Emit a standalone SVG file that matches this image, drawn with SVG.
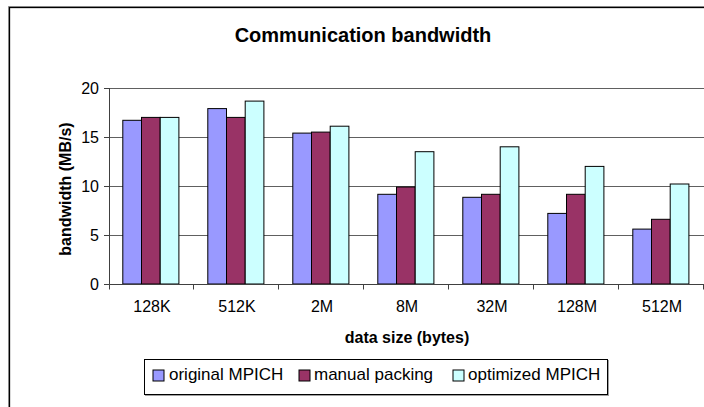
<svg xmlns="http://www.w3.org/2000/svg" width="704" height="407" viewBox="0 0 704 407">
  <style>
    text { font-family: "Liberation Sans", Arial, sans-serif; fill: #000; }
    .title { font-size: 20px; font-weight: bold; }
    .axt { font-size: 16px; font-weight: bold; }
    .tick { font-size: 16px; }
    .leg { font-size: 17px; }
    .grid { stroke: #606060; stroke-width: 1; }
    .axis { stroke: #404040; stroke-width: 1; fill: none; }
    .b1 { fill: #9999FF; stroke: #000; stroke-width: 1; }
    .b2 { fill: #993366; stroke: #000; stroke-width: 1; }
    .b3 { fill: #CCFFFF; stroke: #000; stroke-width: 1; }
  </style>

  <!-- chart frame -->
  <rect x="0" y="0" width="704" height="407" fill="#fff"/>
  <rect x="8.5" y="6.5" width="720" height="420" fill="none" stroke="#a0a0a0" stroke-width="1"/>
  <rect x="9.5" y="7.5" width="720" height="420" fill="none" stroke="#000" stroke-width="1.3"/>

  <text class="title" x="363" y="42" text-anchor="middle">Communication bandwidth</text>

  <!-- gridlines -->
  <g id="gridlines">
    <line class="grid" x1="109" y1="88.5" x2="704" y2="88.5"/>
    <line class="grid" x1="109" y1="137.5" x2="704" y2="137.5"/>
    <line class="grid" x1="109" y1="186.5" x2="704" y2="186.5"/>
    <line class="grid" x1="109" y1="235.5" x2="704" y2="235.5"/>
  </g>

  <!-- bars: original MPICH / manual packing / optimized MPICH -->
  <g id="series-original">
    <rect class="b1" x="122.8" y="120.3" width="18.7" height="163.7"/>
    <rect class="b1" x="207.8" y="108.6" width="18.7" height="175.4"/>
    <rect class="b1" x="292.8" y="133.1" width="18.7" height="150.9"/>
    <rect class="b1" x="377.8" y="194.3" width="18.7" height="89.7"/>
    <rect class="b1" x="462.8" y="197.3" width="18.7" height="86.7"/>
    <rect class="b1" x="547.8" y="213.4" width="18.7" height="70.6"/>
    <rect class="b1" x="632.8" y="229.1" width="18.7" height="54.9"/>
  </g>
  <g id="series-manual">
    <rect class="b2" x="141.5" y="117.4" width="18.7" height="166.6"/>
    <rect class="b2" x="226.5" y="117.4" width="18.7" height="166.6"/>
    <rect class="b2" x="311.5" y="132.1" width="18.7" height="151.9"/>
    <rect class="b2" x="396.5" y="187.0" width="18.7" height="97.0"/>
    <rect class="b2" x="481.5" y="194.3" width="18.7" height="89.7"/>
    <rect class="b2" x="566.5" y="194.3" width="18.7" height="89.7"/>
    <rect class="b2" x="651.5" y="219.3" width="18.7" height="64.7"/>
  </g>
  <g id="series-optimized">
    <rect class="b3" x="160.2" y="117.4" width="18.7" height="166.6"/>
    <rect class="b3" x="245.2" y="101.1" width="18.7" height="182.9"/>
    <rect class="b3" x="330.2" y="126.2" width="18.7" height="157.8"/>
    <rect class="b3" x="415.2" y="151.7" width="18.7" height="132.3"/>
    <rect class="b3" x="500.2" y="146.8" width="18.7" height="137.2"/>
    <rect class="b3" x="585.2" y="166.4" width="18.7" height="117.6"/>
    <rect class="b3" x="670.2" y="184.0" width="18.7" height="100.0"/>
  </g>

  <!-- axes -->
  <g id="axes">
    <path class="axis" d="M109.5 88 V284.5 H704"/>
    <path class="axis" d="M104 88.5 H109.5 M104 137.5 H109.5 M104 186.5 H109.5 M104 235.5 H109.5 M104 284.5 H109.5"/>
    <path class="axis" d="M109.5 284.5 V289.5 M193.5 284.5 V289.5 M278.5 284.5 V289.5 M363.5 284.5 V289.5 M448.5 284.5 V289.5 M533.5 284.5 V289.5 M618.5 284.5 V289.5 M703.5 284.5 V289.5"/>
  </g>

  <!-- y tick labels -->
  <g id="y-labels" class="tick" text-anchor="end">
    <text x="99" y="94">20</text>
    <text x="99" y="143">15</text>
    <text x="99" y="192">10</text>
    <text x="99" y="241">5</text>
    <text x="99" y="290">0</text>
  </g>

  <!-- x tick labels -->
  <g id="x-labels" class="tick" text-anchor="middle">
    <text x="152" y="312">128K</text>
    <text x="237" y="312">512K</text>
    <text x="322" y="312">2M</text>
    <text x="407" y="312">8M</text>
    <text x="492" y="312">32M</text>
    <text x="577" y="312">128M</text>
    <text x="662" y="312">512M</text>
  </g>

  <text class="axt" x="407" y="343" text-anchor="middle">data size (bytes)</text>
  <text class="axt" transform="translate(71 189) rotate(-90)" text-anchor="middle">bandwidth (MB/s)</text>

  <!-- legend -->
  <g id="legend">
    <rect x="145.5" y="360.5" width="463" height="35" fill="none" stroke="#a0a0a0" stroke-width="1"/>
    <rect x="144.5" y="359.5" width="463" height="35" fill="#fff" stroke="#000" stroke-width="1"/>
    <rect class="b1" x="153" y="370" width="11" height="11"/>
    <text class="leg" x="169" y="380">original MPICH</text>
    <rect class="b2" x="299" y="370" width="11" height="11"/>
    <text class="leg" x="314" y="380">manual packing</text>
    <rect class="b3" x="453" y="370" width="11" height="11"/>
    <text class="leg" x="468" y="380">optimized MPICH</text>
  </g>
</svg>
